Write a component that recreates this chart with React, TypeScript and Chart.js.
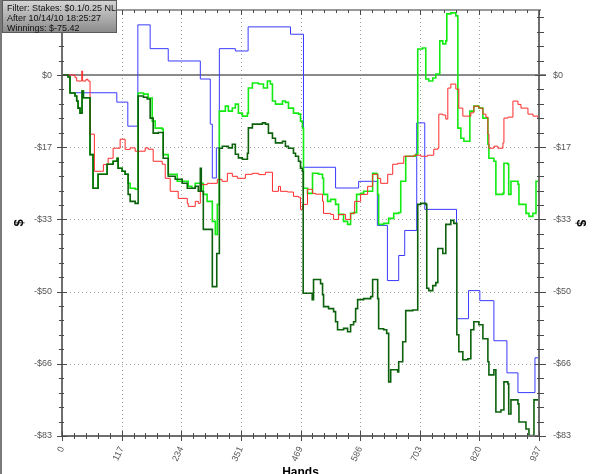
import React, { useEffect, useRef } from "react";
import { Chart, registerables } from "chart.js";

Chart.register(...registerables);

// ---------- data ----------
const xTickValues = [0, 117.125, 234.25, 351.375, 468.5, 585.625, 702.75, 819.875, 937];
const xTickLabels = ["0", "117", "234", "351", "469", "586", "703", "820", "937"];
const yTickValues = [0, -16.6, -33.2, -49.8, -66.4, -83];
const yTickLabels = ["$0", "-$17", "-$33", "-$50", "-$66", "-$83"];
const infoLines = ["Filter: Stakes: $0.1/0.25 NL", "After 10/14/10 18:25:27", "Winnings: $-75.42"];

const darkGreenHands = [
  0, 11.8, 15.7, 25.6, 28.9, 31.5, 35.4, 39.4, 42, 55.1,
  61.0, 70.9, 88.6, 100.4, 108.3, 110.2, 118.1, 124.0, 129.9, 133.9,
  143.7, 149.6, 160, 167.3, 173.2, 179.1, 189, 198.8, 208.7, 222.4,
  236.2, 246.1, 261.8, 267.7, 271.7, 273.6, 277.6, 295.3, 304, 309.1,
  315, 326.8, 334.6, 340.5, 346.5, 354.3, 364.2, 366.1, 374.0, 393.7,
  399.6, 405.5, 413.4, 419.3, 433.1, 438.9, 444.9, 454.7, 458.7, 464.6,
  468.5, 472.4, 473.8, 491.5, 494.1, 507.9, 511.8, 513.8, 523.6, 533.5,
  537.4, 541.3, 553.1, 561.0, 566.9, 572.8, 576.8, 580.7, 592.5, 606.3,
  610.2, 620.1, 622.0, 631.9, 637.8, 641.7, 645.7, 659.4, 661.4, 669.3,
  675.2, 689.0, 698.8, 704.7, 714.6, 716.5, 720.5, 728.3, 734.3, 738.2,
  748.0, 753.9, 763.8, 769.7, 775.6, 779.5, 787.4, 797.2, 803.1, 809.0,
  818.9, 826.8, 836.6, 838.6, 848.4, 852.3, 862.2, 868.1, 875.9, 877.5,
  881.9, 895.7, 897.6, 911.4, 917.3, 925, 927.1, 937,
];
const darkGreenWinnings = [
  0, -0.46, -4.15, -4.84, -5.99, -7.61, -8.76, -3.69, -5.23, -18.3,
  -26.05, -22.83, -20.52, -19.83, -19.14, -21.44, -22.13, -22.83, -27.44, -29.05,
  -29.51, -4.84, -5.1, -5.53, -9.91, -13.37, -13.2, -19.14, -23.29, -23.98,
  -24.9, -26.05, -25.59, -26.74, -21.44, -26.74, -35.5, -48.65, -41.04, -16.83,
  -16.37, -16.76, -15.91, -18.21, -19.06, -19.37, -17.98, -12.15, -11.3, -11.0,
  -11.3, -13.37, -14.53, -15.6, -15.22, -16.37, -16.83, -17.98, -18.68, -19.83,
  -21.44, -22.13, -50.19, -51.65, -47.03, -47.96, -50.49, -53.26, -53.72, -54.41,
  -56.72, -58.56, -58.26, -59.02, -57.41, -56.72, -53.72, -51.65, -51.41, -50.95,
  -47.03, -51.41, -58.33, -58.56, -59.4, -70.55, -67.78, -68.25, -65.94, -61.33,
  -54.18, -54.03, -29.74, -29.51, -29.74, -49.03, -49.57, -48.42, -47.73, -39.89,
  -41.04, -34.35, -33.43, -34.12, -59.71, -63.63, -65.48, -65.25, -58.56, -56.72,
  -57.41, -60.64, -65.94, -68.94, -67.78, -77.47, -77.01, -70.55, -71.01, -77.93,
  -74.7, -75.62, -79.77, -81.39, -82.9, -82.9, -74.7, -75.42,
];

const brightGreenHands = [
  0, 11.8, 15.7, 25.6, 28.9, 31.5, 35.4, 39.4, 42, 55.1,
  61.0, 70.9, 88.6, 100.4, 108.3, 110.2, 118.1, 124.0, 129.9, 133.9,
  143.7, 149.6, 160, 169.3, 177.2, 183.1, 196.9, 198.8, 208.7, 226.4,
  248.0, 255, 261.8, 277.6, 285, 295.3, 301.2, 305.1, 309.1, 320.9,
  326.8, 334.6, 340.5, 346.5, 354.3, 364.2, 366.1, 374.0, 385.8, 395.7,
  403.5, 409.4, 413.4, 419.3, 433.1, 438.9, 444.9, 454.7, 464.6, 468.5,
  472.4, 474.4, 482.3, 492.1, 503.9, 511.8, 513.8, 521.7, 527.6, 537.4,
  543.3, 553.1, 561.0, 566.9, 572.8, 578.7, 586.6, 592.5, 610.2, 618,
  620.1, 622.0, 631.9, 641.7, 651.6, 661.4, 665.4, 675.2, 694.9, 698.8,
  708, 714.6, 720.5, 728.3, 734.3, 742.1, 748.0, 753.9, 755.9, 763.8,
  773.6, 777.6, 783.5, 789.4, 801.2, 809.0, 818.9, 826.8, 836.6, 838.6,
  848.4, 852.3, 866.1, 868.1, 875.9, 877.5, 881.9, 895.7, 897.6, 911.4,
  917.3, 925, 931.1, 937,
];
const brightGreenWinnings = [
  0, -0.46, -4.15, -4.84, -5.99, -7.61, -8.76, -3.69, -5.23, -18.3,
  -26.05, -22.83, -20.52, -19.83, -19.14, -21.44, -22.13, -22.83, -24.9, -26.05,
  -26.28, -4.15, -4.4, -5.3, -10.61, -12.22, -12.45, -18.3, -22.83, -24.44,
  -25.59, -26.05, -24.9, -27.44, -29.05, -33.66, -36.66, -29.74, -8.3, -7.15,
  -8.3, -7.6, -6.69, -8.76, -9.45, -8.76, -3.0, -1.84, -2.08, -3.0,
  -1.38, -2.08, -5.99, -6.69, -5.99, -6.3, -7.61, -8.76, -8.99, -10.61,
  -12.22, -26.05, -27.21, -22.59, -22.83, -23.75, -27.44, -29.05, -28.59, -29.74,
  -32.05, -33.66, -34.35, -31.82, -31.6, -27.44, -27.21, -26.74, -22.59, -22.83,
  -27.44, -34.35, -34.12, -32.97, -31.82, -31.6, -24.44, -18.68, -18.21, 5.99,
  6.2, -0.92, -1.38, -0.69, 0.23, 7.84, 7.15, 7.84, 14.06, 14.29,
  13.6, -12.22, -14.53, -15.22, -8.3, -7.15, -7.61, -9.91, -15.91, -19.14,
  -19.83, -27.44, -27.21, -20.29, -20.52, -27.44, -24.44, -25.13, -29.74, -31.82,
  -32.51, -31.82, -24.44, -25.13,
];

const redHands = [
  0, 25.6, 28.9, 38.8, 40.5, 47, 51.2, 55.1, 63.6, 81.3,
  90.6, 100.4, 114.2, 124.0, 133.9, 143.7, 163.4, 169.3, 179.1, 196.9,
  202.8, 212.6, 228.3, 246.1, 248.0, 261.8, 267.7, 271.7, 285.4, 305.1,
  314.3, 324.8, 334.6, 344.5, 360.2, 374.0, 386.5, 399.6, 413.4, 425.2,
  429.1, 442.9, 454.7, 464.6, 468.5, 472.4, 482.3, 492.1, 498, 511.8,
  513.8, 527.6, 533.5, 543.3, 557.1, 566.9, 574.8, 586.6, 600.4, 610.2,
  620.1, 626.0, 639.8, 649.6, 659.4, 671.3, 690.9, 704.7, 718, 730.3,
  738.2, 740.2, 748.0, 753.9, 757.9, 763.8, 773.6, 779.5, 787.4, 803.1,
  809.0, 818.9, 826.8, 832.7, 836.6, 838.6, 848.4, 856.3, 866.1, 868.1,
  875.9, 885.8, 895.7, 901.6, 915.3, 925.2, 935.0, 937,
];
const redWinnings = [
  0, -0.6, -1.38, 0.92, -1.38, -1.0, -1.38, -13.6, -22.13, -20.6,
  -19.14, -16.83, -14.76, -17.1, -16.76, -17.52, -16.76, -17.06, -19.83, -20.52,
  -23.75, -26.74, -28.36, -29.51, -30.2, -29.05, -29.5, -25.2, -24.9, -24.0,
  -24.44, -22.6, -23.29, -23.75, -22.83, -22.6, -22.9, -22.36, -26.74, -25.6,
  -26.74, -26.9, -27.9, -28.1, -30.89, -29.74, -26.28, -27.21, -27.4, -29.05,
  -31.82, -32.05, -33.2, -32.05, -33.2, -31.82, -29.05, -27.44, -25.59, -22.83,
  -23.75, -24.9, -22.83, -20.52, -20.3, -18.68, -18.44, -18.68, -18.44, -17.06,
  -16.83, -8.99, -9.2, -10.14, -3.0, -2.08, -3.23, -7.61, -9.45, -8.68,
  -7.15, -7.61, -8.99, -9.68, -13.6, -16.83, -16.37, -16.83, -15.6, -9.91,
  -9.68, -5.99, -6.76, -7.61, -8.99, -9.45, -10.14, -10.6,
];

const blueHands = [
  0, 15.7, 107.7, 129.3, 149.0, 173.2, 208.7, 271.7, 291.3, 295.3,
  303.2, 309.1, 340.5, 365.6, 448.8, 474.4, 537.4, 582.7, 619.5, 639.2,
  661.4, 673.2, 696.8, 712.6, 775.0, 798.6, 820.8, 848.4, 874.0, 895.7,
  929.1, 937,
];
const blueWinnings = [
  0, -4.08, -6.23, -11.76, 11.53, 6.06, 3.23, -0.92, -11.3, -23.68,
  -16.76, 6.06, 5.53, 11.07, 9.38, -21.21, -25.98, -24.44, -34.58, -47.26,
  -41.5, -35.74, -11.0, -30.89, -56.03, -49.57, -51.88, -61.1, -68.48, -73.02,
  -65.02, -65.02,
];

// ---------- helpers ----------
const Y_MIN = -83;
const Y_MAX = 14.95;
const X_MIN = 0;
const X_MAX = 937;
const FONT = '"Liberation Sans", Arial, sans-serif';

function toPoints(h: number[], w: number[]) {
  const n = Math.min(h.length, w.length);
  const out: { x: number; y: number }[] = [];
  for (let i = 0; i < n; i++) out.push({ x: h[i], y: w[i] });
  return out;
}

function yLabel(v: number) {
  const i = yTickValues.indexOf(v);
  return i >= 0 ? yTickLabels[i] : "";
}

function seg(ctx: CanvasRenderingContext2D, x1: number, y1: number, x2: number, y2: number) {
  ctx.beginPath();
  ctx.moveTo(x1, y1);
  ctx.lineTo(x2, y2);
  ctx.stroke();
}

function zeroPadding(s: any) {
  s.paddingTop = 0;
  s.paddingBottom = 0;
  s.paddingLeft = 0;
  s.paddingRight = 0;
}

const framePlugin = {
  id: "frame",
  beforeDatasetsDraw(chart: any) {
    const { ctx, chartArea: a, scales } = chart;
    const xs = scales.x;
    const ys = scales.y;
    ctx.save();
    ctx.lineWidth = 1;
    ctx.strokeStyle = "#9c9c9c";
    ctx.setLineDash([1, 3]);
    for (let i = 1; i < xTickValues.length - 1; i++) {
      const px = Math.round(xs.getPixelForValue(xTickValues[i])) + 0.5;
      seg(ctx, px, a.top, px, a.bottom);
    }
    for (const v of yTickValues) {
      if (v === 0 || v === Y_MIN) continue;
      const py = Math.round(ys.getPixelForValue(v)) + 0.5;
      seg(ctx, a.left, py, a.right, py);
    }
    ctx.setLineDash([]);
    ctx.strokeStyle = "#8a8a8a";
    ctx.lineWidth = 2;
    const zy = Math.round(ys.getPixelForValue(0));
    seg(ctx, a.left, zy, a.right + 7, zy);
    ctx.restore();
  },
  afterDatasetsDraw(chart: any) {
    const { ctx, chartArea: a, scales } = chart;
    const xs = scales.x;
    const ys = scales.y;
    ctx.save();
    ctx.strokeStyle = "#9a9a9a";
    ctx.lineWidth = 2;
    seg(ctx, a.left, a.top, a.right + 2, a.top);
    ctx.strokeStyle = "#6e6e6e";
    ctx.lineWidth = 2;
    seg(ctx, a.left, a.top, a.left, a.bottom + 1);
    seg(ctx, a.left - 1, a.bottom, a.right + 1, a.bottom);
    seg(ctx, a.right, a.top, a.right, a.bottom + 1);
    ctx.strokeStyle = "#4a4a4a";
    ctx.lineWidth = 1;
    const xStep = (xTickValues[1] - xTickValues[0]) / 5;
    for (let k = 0; X_MIN + k * xStep <= X_MAX + 1e-6; k++) {
      const v = X_MIN + k * xStep;
      const major = k % 5 === 0;
      const px = Math.round(xs.getPixelForValue(v)) + 0.5;
      if (major) {
        seg(ctx, px, a.bottom - 5, px, a.bottom + 5);
        seg(ctx, px, a.top, px, a.top + 5);
      } else {
        seg(ctx, px, a.bottom - 3, px, a.bottom + 3);
        seg(ctx, px, a.top, px, a.top + 3);
      }
    }
    const yStep = (yTickValues[0] - yTickValues[1]) / 5;
    for (let k = 0; Y_MIN + k * yStep <= Y_MAX; k++) {
      const v = Y_MIN + k * yStep;
      const major = k % 5 === 0;
      const py = Math.round(ys.getPixelForValue(v)) + 0.5;
      if (major) {
        seg(ctx, a.left - 5, py, a.left + 5, py);
        seg(ctx, a.right - 4, py, a.right + 7, py);
      } else {
        seg(ctx, a.left - 3, py, a.left + 2, py);
        seg(ctx, a.right - 2, py, a.right + 5, py);
      }
    }
    ctx.restore();
  },
};

export default function App() {
  const ref = useRef<HTMLCanvasElement | null>(null);

  useEffect(() => {
    if (!ref.current) return;
    const tickFont = { family: FONT, size: 9 };
    const yTickSorted = [...yTickValues].sort((p, q) => p - q);
    const chart = new Chart(ref.current, {
      type: "line",
      data: {
        datasets: [
          {
            label: "Winnings",
            data: toPoints(darkGreenHands, darkGreenWinnings),
            borderColor: "#0c620c",
            borderWidth: 1.6,
            stepped: true,
            pointRadius: 0,
            fill: false,
          },
          {
            label: "Red",
            data: toPoints(redHands, redWinnings),
            borderColor: "#ff2a2a",
            borderWidth: 1,
            stepped: true,
            pointRadius: 0,
            fill: false,
          },
          {
            label: "Bright green",
            data: toPoints(brightGreenHands, brightGreenWinnings),
            borderColor: "#12ea12",
            borderWidth: 1.6,
            stepped: true,
            pointRadius: 0,
            fill: false,
          },
          {
            label: "Blue",
            data: toPoints(blueHands, blueWinnings),
            borderColor: "#3a3aff",
            borderWidth: 1,
            stepped: true,
            pointRadius: 0,
            fill: false,
          },
        ],
      } as any,
      options: {
        animation: false,
        responsive: false,
        maintainAspectRatio: false,
        devicePixelRatio: 1,
        layout: { padding: { top: 10, left: 0, right: 0, bottom: 0 } },
        plugins: {
          legend: { display: false },
          tooltip: { enabled: false },
          title: { display: false },
        },
        scales: {
          x: {
            type: "linear",
            position: "bottom",
            min: X_MIN,
            max: X_MAX,
            afterBuildTicks: (s: any) => {
              s.ticks = xTickValues.map((v) => ({ value: v }));
            },
            afterFit: (s: any) => {
              s.height = 54;
              zeroPadding(s);
            },
            ticks: {
              autoSkip: false,
              minRotation: 65,
              maxRotation: 65,
              padding: 9,
              color: "#555",
              font: tickFont,
              callback: (_v: any, i: number) => xTickLabels[i],
            },
            grid: { display: false, drawTicks: false },
            border: { display: false },
            title: {
              display: true,
              text: "Hands",
              color: "#000",
              font: { family: FONT, size: 12, weight: "bold" },
              padding: { top: 0, bottom: 10 },
            },
          },
          y: {
            type: "linear",
            position: "left",
            min: Y_MIN,
            max: Y_MAX,
            afterBuildTicks: (s: any) => {
              s.ticks = yTickSorted.map((v) => ({ value: v }));
            },
            afterFit: (s: any) => {
              s.width = 62;
              zeroPadding(s);
            },
            ticks: {
              padding: 10,
              color: "#555",
              font: tickFont,
              callback: (v: any) => yLabel(v),
            },
            grid: { display: false, drawTicks: false },
            border: { display: false },
            title: {
              display: true,
              text: "$",
              color: "#000",
              font: { family: FONT, size: 13, weight: "bold" },
              padding: { top: 12, bottom: 0 },
            },
          },
          y2: {
            type: "linear",
            position: "right",
            min: Y_MIN,
            max: Y_MAX,
            afterBuildTicks: (s: any) => {
              s.ticks = yTickSorted.map((v) => ({ value: v }));
            },
            afterFit: (s: any) => {
              s.width = 61;
              zeroPadding(s);
            },
            ticks: {
              padding: 14,
              color: "#555",
              font: tickFont,
              callback: (v: any) => yLabel(v),
            },
            grid: { display: false, drawTicks: false },
            border: { display: false },
            title: {
              display: true,
              text: "$",
              color: "#000",
              font: { family: FONT, size: 13, weight: "bold" },
              padding: { top: 12, bottom: 0 },
            },
          },
        },
      } as any,
      plugins: [framePlugin],
    });
    return () => chart.destroy();
  }, []);

  return (
    <div
      style={{
        position: "fixed",
        left: 0,
        top: 0,
        width: 600,
        height: 474,
        overflow: "hidden",
        background: "#fff",
      }}
    >
      <canvas ref={ref} width={600} height={490} style={{ display: "block", width: 600, height: 490 }} />
      <div style={{ position: "absolute", left: 0, top: 0, width: 2, height: 474, background: "#7a7a7a" }} />
      <div
        style={{
          position: "absolute",
          left: 2,
          top: 0,
          width: 115,
          height: 33,
          boxSizing: "border-box",
          border: "1px solid #5a5a5a",
          background: "linear-gradient(#d4d4d4, #8c8c8c)",
          fontFamily: FONT,
          fontSize: 9,
          lineHeight: "10px",
          color: "#111",
          padding: "2px 0 0 4px",
          whiteSpace: "nowrap",
        }}
      >
        {infoLines.map((l) => (
          <div key={l}>{l}</div>
        ))}
      </div>
    </div>
  );
}
